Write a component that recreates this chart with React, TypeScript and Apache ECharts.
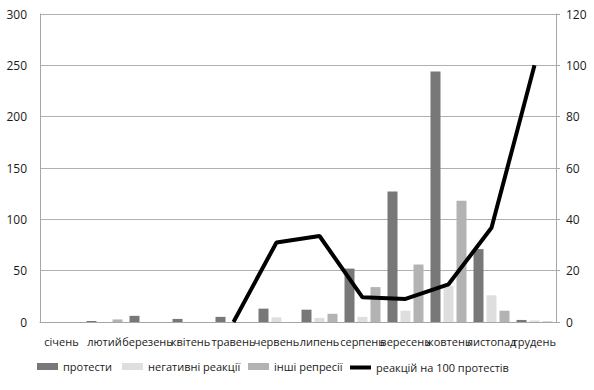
import React, { useEffect, useRef } from "react";
import * as echarts from "echarts";

const categories = ["січень", "лютий", "березень", "квітень", "травень", "червень", "липень", "серпень", "вересень", "жовтень", "листопад", "грудень"];
const protests = [0, 1, 6, 3, 5, 13, 12, 52, 127, 244, 71, 2];
const negative = [0, 0, 0, 0, 0, 4.5, 4, 5, 11, 35, 26, 1.5];
const other = [0, 2.5, 0, 0, 0, 0, 8, 34, 56, 118, 11, 0.5];
const per100 = [null, null, null, null, 0, 31, 33.5, 9.6, 9, 14.7, 36.7, 100];
const leftTicks = { min: 0, max: 300, interval: 50 };
const rightTicks = { min: 0, max: 120, interval: 20 };

const FONT = "Open Sans";
const TXT = "#1a1a1a";

export default function App() {
  const ref = useRef<HTMLDivElement>(null);
  useEffect(() => {
    document.body.style.margin = "0";
    const chart = echarts.init(ref.current!, null, { renderer: "svg" });
    const legendBase = {
      top: 361,
      padding: 0,
      itemWidth: 21,
      itemHeight: 7,
      textStyle: { fontFamily: FONT, fontSize: 11, color: TXT },
    };
    chart.setOption({
      animation: false,
      backgroundColor: "#fff",
      textStyle: { fontFamily: FONT },
      grid: { left: 40, right: 38, top: 14, bottom: 68, containLabel: false },
      legend: [
        { ...legendBase, left: 37, data: [{ name: "протести", icon: "rect" }] },
        { ...legendBase, left: 122, data: [{ name: "негативні реакції", icon: "rect" }] },
        { ...legendBase, left: 248, data: [{ name: "інші репресії", icon: "rect" }] },
        { ...legendBase, left: 350, top: 362, itemHeight: 4, data: [{ name: "реакцій на 100 протестів", icon: "rect" }] },
      ],
      xAxis: {
        type: "category",
        data: categories,
        axisLine: { lineStyle: { color: "#a6a6a6" } },
        axisTick: { show: false },
        axisLabel: { interval: 0, fontFamily: FONT, fontSize: 11, color: TXT, margin: 14 },
      },
      yAxis: [
        {
          type: "value",
          ...leftTicks,
          axisLine: { show: true, lineStyle: { color: "#a6a6a6" } },
          axisTick: { show: false },
          splitLine: { lineStyle: { color: "#b0b0b0" } },
          axisLabel: { fontFamily: FONT, fontSize: 12, color: TXT, margin: 13 },
        },
        {
          type: "value",
          ...rightTicks,
          position: "right",
          axisLine: { show: true, lineStyle: { color: "#a6a6a6" } },
          axisTick: { show: true, length: 4, lineStyle: { color: "#a6a6a6" } },
          splitLine: { show: false },
          axisLabel: { fontFamily: FONT, fontSize: 12, color: TXT, margin: 10 },
        },
      ],
      series: [
        { name: "протести", type: "bar", data: protests, barWidth: 10, barGap: "30%", itemStyle: { color: "#787878" } },
        { name: "негативні реакції", type: "bar", data: negative, barWidth: 10, barGap: "30%", itemStyle: { color: "#dedede" } },
        { name: "інші репресії", type: "bar", data: other, barWidth: 10, barGap: "30%", itemStyle: { color: "#b3b3b3" } },
        {
          name: "реакцій на 100 протестів",
          type: "line",
          yAxisIndex: 1,
          data: per100,
          symbol: "none",
          connectNulls: false,
          lineStyle: { color: "#000", width: 4 },
          itemStyle: { color: "#000" },
        },
      ],
    });
    return () => chart.dispose();
  }, []);
  return <div ref={ref} style={{ width: 594, height: 390 }} />;
}
